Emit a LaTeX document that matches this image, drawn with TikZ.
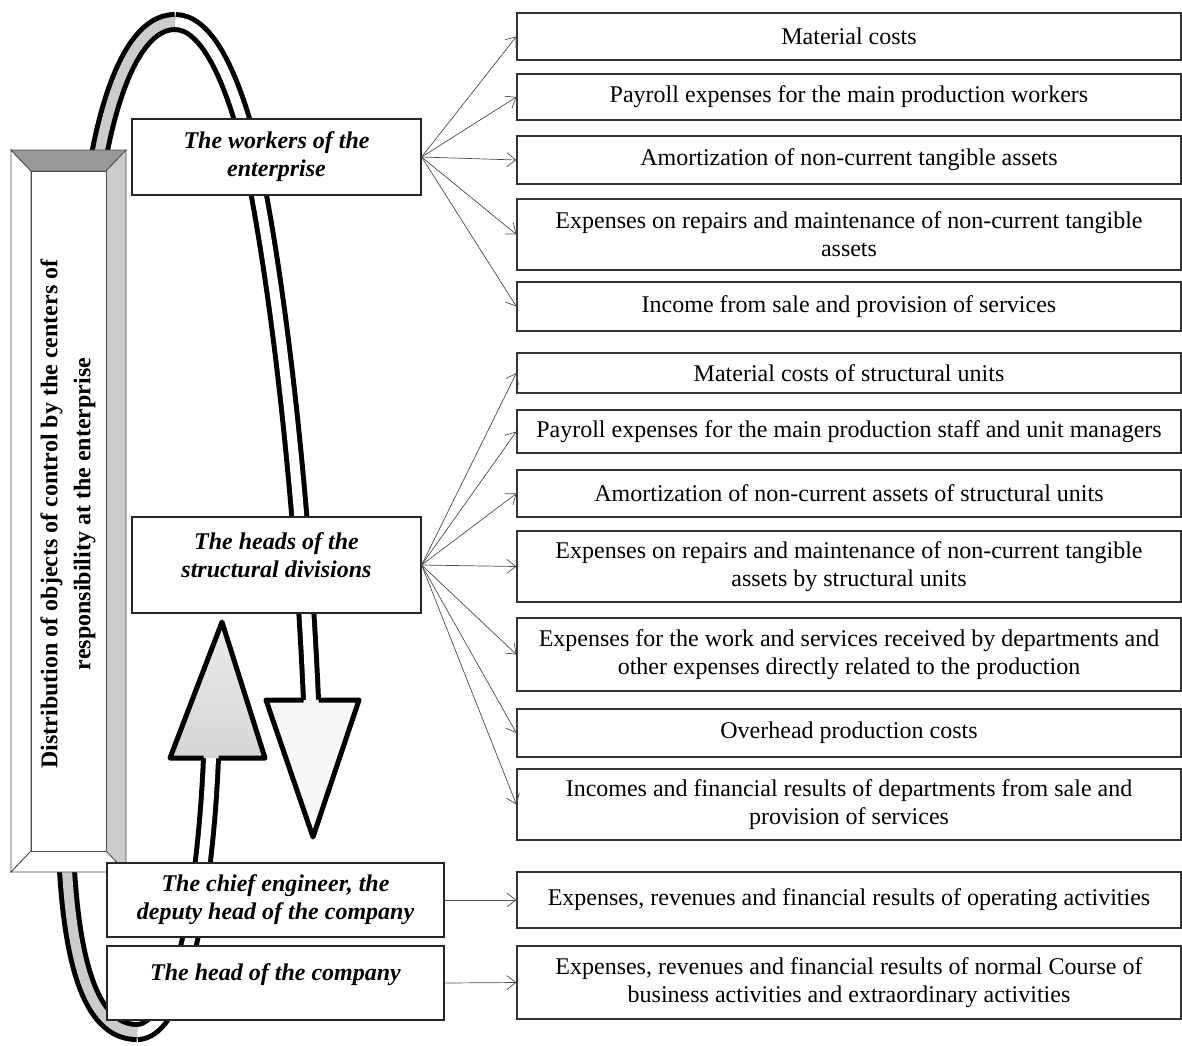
\documentclass[tikz,border=0pt]{standalone}
\usepackage{fontspec}
\setmainfont{Liberation Serif}
\usetikzlibrary{positioning,arrows.meta}

\begin{document}
\begin{tikzpicture}[x=1pt,y=-1pt,
    objbox/.style={draw=black!80, line width=1.2pt, fill=white, minimum width=664pt, align=center, inner sep=2pt, font=\fontsize{24}{28}\selectfont},
    ctrbox/.style={draw=black!85, line width=1.2pt, fill=white, align=center, inner sep=2pt, font=\fontsize{24}{28}\selectfont\bfseries\itshape},
    link/.style={draw=black!70, line width=0.7pt, -{Straight Barb[length=9pt,width=14pt]}},
    band/.style={draw=black, line width=5pt, double distance=10pt},
    bevel/.style={draw=black!70, line width=0.8pt}]
    \useasboundingbox (0,0) rectangle (1182,1045);
    % the ring of responsibility
    \draw[band, double=white] (211,758) .. controls (205,900) and (180,1032) .. (137,1032);
    \draw[band, double=black!20] (137,1032) .. controls (95,1032) and (71,975) .. (66,850)
        .. controls (61,725) and (80,250) .. (100,150) .. controls (115,75) and (140,22) .. (175,22);
    \draw[band, double=white] (175,22) .. controls (205,22) and (228,70) .. (245,130)
        .. controls (270,230) and (300,450) .. (311,700);
    \draw[line width=5pt, line join=round, fill=black!3] (303.5,700) -- (266,700) -- (313,837) -- (359,700) -- (318.5,700);
    \draw[line width=5pt, line join=round, top color=black!8, bottom color=black!16] (203.5,758) -- (170,758) -- (222,622) -- (265,758) -- (218.5,758);
    % bevelled title box
    \filldraw[bevel, fill=white] (11,150) -- (31,171) -- (31,851) -- (11,872) -- cycle;
    \filldraw[bevel, fill=black!40] (11,150) -- (126,150) -- (106,171) -- (31,171) -- cycle;
    \filldraw[bevel, fill=black!20] (126,150) -- (126,872) -- (106,851) -- (106,171) -- cycle;
    \filldraw[bevel, fill=white] (11,872) -- (126,872) -- (106,851) -- (31,851) -- cycle;
    \filldraw[bevel, fill=white] (31,171) rectangle (106,851);
    \node[rotate=90, align=center, font=\fontsize{24}{33}\selectfont\bfseries] (title) at (68,514)
        {Distribution of objects of control by the centers of\\responsibility at the enterprise};
    % centres of responsibility
    \node[ctrbox, minimum width=289pt, minimum height=76pt] (workers) at (276.5,157) {The workers of the\\enterprise};
    \node[ctrbox, minimum width=289pt, minimum height=96pt, text depth=19pt] (heads) at (276.5,565) {The heads of the\\structural divisions};
    \node[ctrbox, minimum width=337pt, minimum height=74pt] (chief) at (275.5,900) {The chief engineer, the\\deputy head of the company};
    \node[ctrbox, minimum width=337pt, minimum height=74pt, text depth=21pt] (head) at (275.5,983) {The head of the company};
    % objects of control
    \node[objbox, minimum height=47pt] (mat) at (849,36.5) {Material costs};
    \node[objbox, minimum height=46pt] (pay) at (849,97) {Payroll expenses for the main production workers};
    \node[objbox, minimum height=48pt] (amort) at (849,160) {Amortization of non-current tangible assets};
    \node[objbox, minimum height=71pt] (rep) at (849,234.5) {Expenses on repairs and maintenance of non-current tangible\\assets};
    \node[objbox, minimum height=49pt] (inc) at (849,306.5) {Income from sale and provision of services};
    \node[objbox, minimum height=40pt] (umat) at (849,373) {Material costs of structural units};
    \node[objbox, minimum height=43pt] (upay) at (849,431.5) {Payroll expenses for the main production staff and unit managers};
    \node[objbox, minimum height=47pt] (uamort) at (849,493.5) {Amortization of non-current assets of structural units};
    \node[objbox, minimum height=71pt] (urep) at (849,566.5) {Expenses on repairs and maintenance of non-current tangible\\assets by structural units};
    \node[objbox, minimum height=73pt] (uwork) at (849,654.5) {Expenses for the work and services received by departments and\\other expenses directly related to the production};
    \node[objbox, minimum height=48pt] (uover) at (849,733) {Overhead production costs};
    \node[objbox, minimum height=71pt] (uinc) at (849,804.5) {Incomes and financial results of departments from sale and\\provision of services};
    \node[objbox, minimum height=56pt] (oper) at (849,900) {Expenses, revenues and financial results of operating activities};
    \node[objbox, minimum height=73pt] (norm) at (849,982.5) {Expenses, revenues and financial results of normal Course of\\business activities and extraordinary activities};
    % links
    \draw[link] (workers.east) -- (mat.west);
    \draw[link] (workers.east) -- (pay.west);
    \draw[link] (workers.east) -- (amort.west);
    \draw[link] (workers.east) -- (rep.west);
    \draw[link] (workers.east) -- (inc.west);
    \draw[link] (heads.east) -- (umat.west);
    \draw[link] (heads.east) -- (upay.west);
    \draw[link] (heads.east) -- (uamort.west);
    \draw[link] (heads.east) -- (urep.west);
    \draw[link] (heads.east) -- (uwork.west);
    \draw[link] (heads.east) -- (uover.west);
    \draw[link] (heads.east) -- (uinc.west);
    \draw[link] (chief.east) -- (oper.west);
    \draw[link] (head.east) -- (norm.west);
\end{tikzpicture}
\end{document}
